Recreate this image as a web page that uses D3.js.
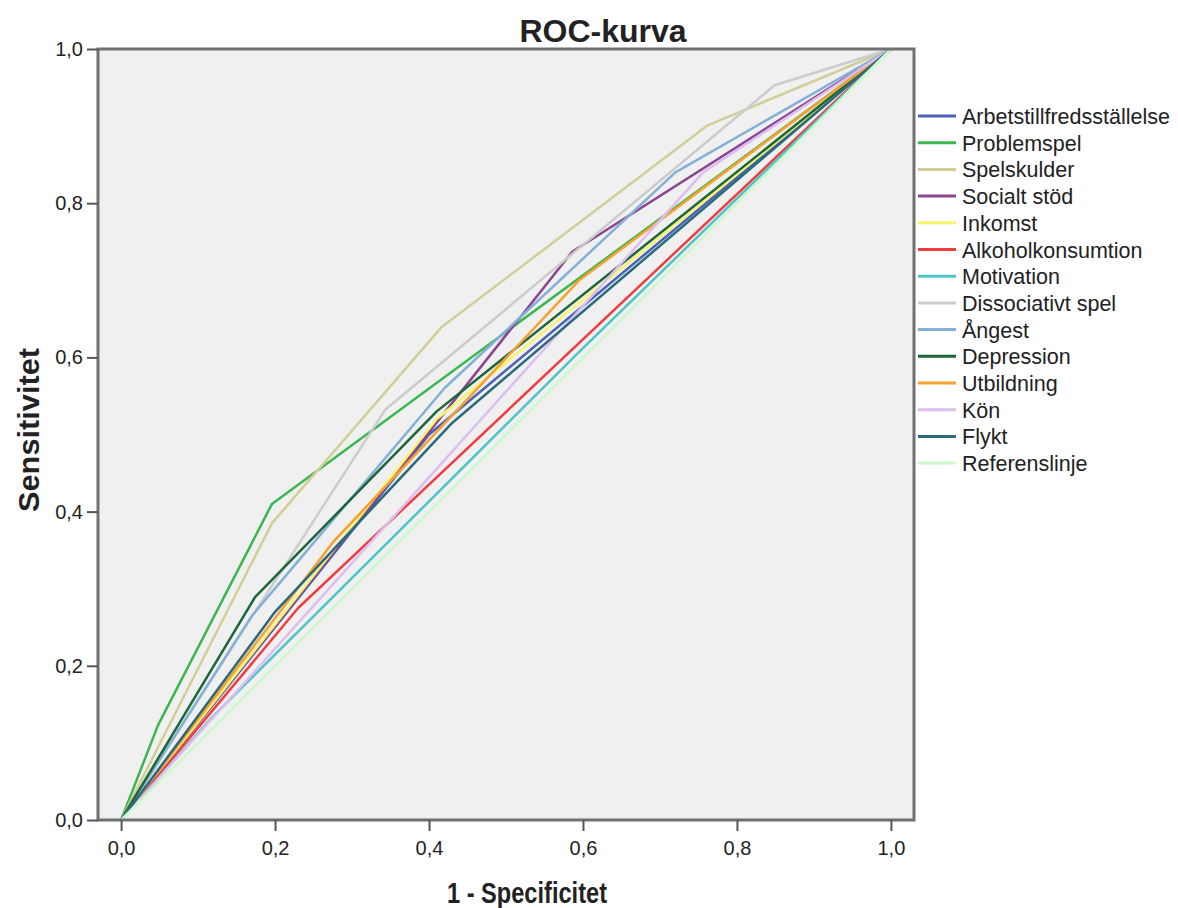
<!DOCTYPE html>
<html>
<head>
<meta charset="utf-8">
<script src="https://cdn.jsdelivr.net/npm/d3@7"></script>
<style>
  body { margin: 0; background: #fff; }
  text { font-family: "Liberation Sans", Arial, sans-serif; fill: #222; }
</style>
</head>
<body>
<svg id="chart" width="1178" height="908"></svg>
<script>
// ROC-kurva - points are [1 - specificitet, sensitivitet]
const arbetstillfredsstallelse = [[0, 0], [0.40, 0.50], [1, 1]];
const problemspel = [[0, 0], [0.048, 0.123], [0.196, 0.410], [1, 1]];
const spelskulder = [[0, 0], [0.196, 0.385], [0.416, 0.639], [0.762, 0.901], [1, 1]];
const socialtStod = [[0, 0], [0.586, 0.737], [1, 1]];
const inkomst = [[0, 0], [0.41, 0.52], [1, 1]];
const alkoholkonsumtion = [[0, 0], [0.23, 0.275], [1, 1]];
const motivation = [[0, 0], [0.12, 0.135], [0.60, 0.612], [1, 1]];
const dissociativtSpel = [[0, 0], [0.343, 0.532], [0.849, 0.953], [1, 1]];
const angest = [[0, 0], [0.17, 0.265], [0.42, 0.56], [0.72, 0.84], [1, 1]];
const depression = [[0, 0], [0.174, 0.289], [0.41, 0.53], [1, 1]];
const utbildning = [[0, 0], [0.275, 0.36], [0.595, 0.70], [1, 1]];
const kon = [[0, 0], [0.756, 0.84], [1, 1]];
const flykt = [[0, 0], [0.20, 0.27], [0.43, 0.515], [1, 1]];
const referenslinje = [[0, 0], [1, 1]];

const seriesNames = ["Arbetstillfredsställelse", "Problemspel", "Spelskulder", "Socialt stöd",
    "Inkomst", "Alkoholkonsumtion", "Motivation", "Dissociativt spel", "Ångest",
    "Depression", "Utbildning", "Kön", "Flykt", "Referenslinje"];
const seriesPoints = [arbetstillfredsstallelse, problemspel, spelskulder, socialtStod,
    inkomst, alkoholkonsumtion, motivation, dissociativtSpel, angest,
    depression, utbildning, kon, flykt, referenslinje];

const xTicks = [0, 0.2, 0.4, 0.6, 0.8, 1.0];
const yTicks = [0, 0.2, 0.4, 0.6, 0.8, 1.0];

// SPSS-like palette (a bit softened, as in the picture)
const palette = ["#4a62b8", "#3cb64e", "#d3ce97", "#8a4690", "#f8f46e", "#ef3e42", "#4fc4c6",
    "#cccccc", "#84b0d8", "#1d6638", "#f8a030", "#ddbef1", "#2a6a7e", "#ccf8cc"];

const svg = d3.select("#chart");
const plot = { left: 98, right: 914, top: 49, bottom: 820 };

const x = d3.scaleLinear().domain([-0.03, 1.03]).range([plot.left, plot.right]);
const y = d3.scaleLinear().domain([0, 1]).range([plot.bottom, plot.top]);

const sv = d3.formatLocale({ decimal: ",", thousands: " ", grouping: [3], currency: ["", " kr"] });
const fmt = sv.format(".1f");

// plot background
svg.append("rect")
    .attr("x", plot.left).attr("y", plot.top)
    .attr("width", plot.right - plot.left).attr("height", plot.bottom - plot.top)
    .attr("fill", "#f0f0f0");

// curves
const line = d3.line().x(d => x(d[0])).y(d => y(d[1]));
svg.append("g")
    .selectAll("path")
    .data(seriesPoints)
    .enter().append("path")
    .attr("d", line)
    .attr("fill", "none")
    .attr("stroke", (d, i) => palette[i])
    .attr("stroke-width", 2.5)
    .attr("stroke-linejoin", "round");

// frame
svg.append("rect")
    .attr("x", plot.left).attr("y", plot.top)
    .attr("width", plot.right - plot.left).attr("height", plot.bottom - plot.top)
    .attr("fill", "none")
    .attr("stroke", "#707070")
    .attr("stroke-width", 3);

// axes
const xAxis = svg.append("g")
    .attr("transform", `translate(0,${plot.bottom})`)
    .call(d3.axisBottom(x).tickValues(xTicks).tickFormat(fmt).tickSize(11).tickPadding(10));
const yAxis = svg.append("g")
    .attr("transform", `translate(${plot.left},0)`)
    .call(d3.axisLeft(y).tickValues(yTicks).tickFormat(fmt).tickSize(11).tickPadding(4));

[xAxis, yAxis].forEach(a => {
    a.select(".domain").remove();
    a.selectAll(".tick line").attr("stroke", "#555").attr("stroke-width", 2);
    a.selectAll(".tick text")
        .style("font-family", "'Liberation Sans', Arial, sans-serif")
        .style("font-size", "20px")
        .attr("fill", "#333");
});

// title and axis titles
svg.append("text")
    .attr("x", 603).attr("y", 42)
    .attr("text-anchor", "middle")
    .style("font-size", "32px").style("font-weight", "bold")
    .text("ROC-kurva");

svg.append("text")
    .attr("x", 527).attr("y", 903)
    .attr("text-anchor", "middle")
    .attr("textLength", 160).attr("lengthAdjust", "spacingAndGlyphs")
    .style("font-size", "29px").style("font-weight", "bold")
    .text("1 - Specificitet");

svg.append("text")
    .attr("transform", "translate(39,430) rotate(-90)")
    .attr("text-anchor", "middle")
    .attr("textLength", 164).attr("lengthAdjust", "spacingAndGlyphs")
    .style("font-size", "29px").style("font-weight", "bold")
    .text("Sensitivitet");

// legend
const legend = svg.append("g")
    .selectAll("g")
    .data(seriesNames)
    .enter().append("g")
    .attr("transform", (d, i) => `translate(918,${116 + i * 26.7})`);

legend.append("line")
    .attr("x1", 0).attr("x2", 38)
    .attr("stroke", (d, i) => palette[i])
    .attr("stroke-width", 3);

legend.append("text")
    .attr("x", 44).attr("y", 8)
    .style("font-size", "21.5px")
    .text(d => d);
</script>
</body>
</html>
